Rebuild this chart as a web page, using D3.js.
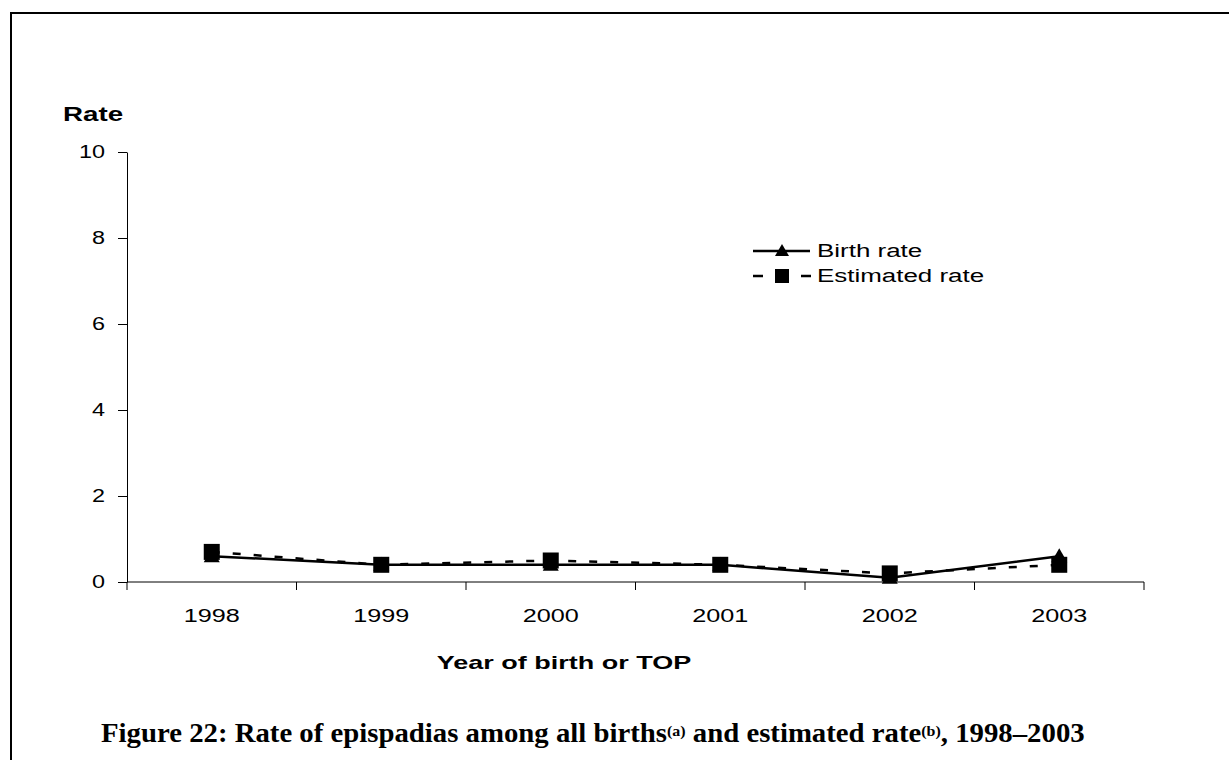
<!DOCTYPE html>
<html>
<head>
<meta charset="utf-8">
<script src="https://cdn.jsdelivr.net/npm/d3@7"></script>
<style>
  body { margin: 0; background: #fff; }
  text { font-family: "Liberation Sans", Arial, sans-serif; fill: #000; }
</style>
</head>
<body>
<div id="chart"></div>
<script>
// chart data
const years = ['1998', '1999', '2000', '2001', '2002', '2003'];
const birthRate = [0.6, 0.4, 0.4, 0.4, 0.1, 0.6];
const estimatedRate = [0.7, 0.4, 0.5, 0.4, 0.2, 0.4];
const yTicks = [0, 2, 4, 6, 8, 10];

const width = 1229;
const height = 760;
const SX = 1.4; // source text is stretched horizontally

// widen a text to look like the source
const stretch = (sel, sx) => sel.each(function () {
  const len = this.getComputedTextLength();
  d3.select(this).attr('textLength', len * sx).attr('lengthAdjust', 'spacingAndGlyphs');
});

const svg = d3.select('#chart').append('svg')
  .attr('width', width)
  .attr('height', height);

// frame
svg.append('path')
  .attr('d', `M11,${height} V13 H${width}`)
  .attr('fill', 'none')
  .attr('stroke', '#000')
  .attr('stroke-width', 2);

const x = d3.scaleBand().domain(years).range([127, 1144]).paddingInner(0).paddingOuter(0);
const y = d3.scaleLinear().domain([0, 10]).range([582, 152]);

// y axis
const yAxis = svg.append('g')
  .attr('transform', `translate(${x.range()[0]},0)`)
  .call(d3.axisLeft(y).tickValues(yTicks).tickSize(9).tickSizeOuter(0).tickPadding(13));
yAxis.select('.domain').attr('stroke', '#000');
yAxis.selectAll('.tick line').attr('stroke', '#000');
yAxis.selectAll('.tick text')
  .style('font-size', '18px')
  .attr('font-family', null)
  .call(stretch, 1.3);

// x axis: ticks at band boundaries
const bounds = years.map(d => x(d)).concat([x.range()[1]]);
svg.append('line')
  .attr('x1', x.range()[0]).attr('x2', x.range()[1])
  .attr('y1', y(0)).attr('y2', y(0))
  .attr('stroke', '#000');
svg.selectAll('.xtick')
  .data(bounds)
  .enter().append('line')
  .attr('class', 'xtick')
  .attr('x1', d => d).attr('x2', d => d)
  .attr('y1', y(0)).attr('y2', y(0) + 8)
  .attr('stroke', '#000');
svg.selectAll('.xlabel')
  .data(years)
  .enter().append('text')
  .attr('class', 'xlabel')
  .attr('x', d => x(d) + x.bandwidth() / 2)
  .attr('y', 622)
  .attr('text-anchor', 'middle')
  .style('font-size', '18px')
  .text(d => d)
  .call(stretch, SX);

// axis titles
svg.append('text')
  .attr('x', 63).attr('y', 121)
  .style('font-size', '21px')
  .style('font-weight', 'bold')
  .text('Rate')
  .call(stretch, 1.32);
svg.append('text')
  .attr('x', 564).attr('y', 669)
  .attr('text-anchor', 'middle')
  .style('font-size', '19px')
  .style('font-weight', 'bold')
  .text('Year of birth or TOP')
  .call(stretch, 1.42);

// series
const cx = (d, i) => x(years[i]) + x.bandwidth() / 2;
const line = d3.line().x(cx).y(d => y(d));

svg.append('path')
  .attr('d', line(estimatedRate))
  .attr('fill', 'none')
  .attr('stroke', '#000')
  .attr('stroke-width', 2.5)
  .attr('stroke-dasharray', '8,13');
svg.append('path')
  .attr('d', line(birthRate))
  .attr('fill', 'none')
  .attr('stroke', '#000')
  .attr('stroke-width', 2.5);

const tri = 'M0,-8 L8,6 L-8,6 Z';
svg.selectAll('.tri')
  .data(birthRate)
  .enter().append('path')
  .attr('class', 'tri')
  .attr('d', tri)
  .attr('transform', (d, i) => `translate(${cx(d, i)},${y(d)})`);
svg.selectAll('.sq')
  .data(estimatedRate)
  .enter().append('rect')
  .attr('class', 'sq')
  .attr('x', (d, i) => cx(d, i) - 8)
  .attr('y', d => y(d) - 8)
  .attr('width', 16)
  .attr('height', 16);

// legend
const legend = svg.append('g');
legend.append('line')
  .attr('x1', 753).attr('x2', 810).attr('y1', 251).attr('y2', 251)
  .attr('stroke', '#000').attr('stroke-width', 2.5);
legend.append('path').attr('d', 'M0,-7 L7,5 L-7,5 Z').attr('transform', 'translate(782,251)');
legend.append('line')
  .attr('x1', 753).attr('x2', 811).attr('y1', 276).attr('y2', 276)
  .attr('stroke', '#000').attr('stroke-width', 2.5)
  .attr('stroke-dasharray', '10,14');
legend.append('rect').attr('x', 775).attr('y', 269).attr('width', 14).attr('height', 14);
legend.selectAll('.ltext')
  .data(['Birth rate', 'Estimated rate'])
  .enter().append('text')
  .attr('x', 817)
  .attr('y', (d, i) => 257 + i * 25)
  .style('font-size', '18px')
  .text(d => d)
  .call(stretch, 1.44);

// caption
const cap = svg.append('text')
  .attr('x', 0).attr('y', 0)
  .style('font-family', '"Liberation Serif", "DejaVu Serif", serif')
  .style('font-weight', 'bold')
  .style('font-size', '27px');
cap.append('tspan').text('Figure 22: Rate of epispadias among all births');
cap.append('tspan').attr('baseline-shift', '40%').style('font-size', '15px').text('(a)');
cap.append('tspan').text(' and estimated rate');
cap.append('tspan').attr('baseline-shift', '40%').style('font-size', '15px').text('(b)');
cap.append('tspan').text(', 1998\u20132003');
const capW = cap.node().getBBox().width;
cap.attr('transform', `translate(101,742) scale(${984 / capW},1)`);
</script>
</body>
</html>
